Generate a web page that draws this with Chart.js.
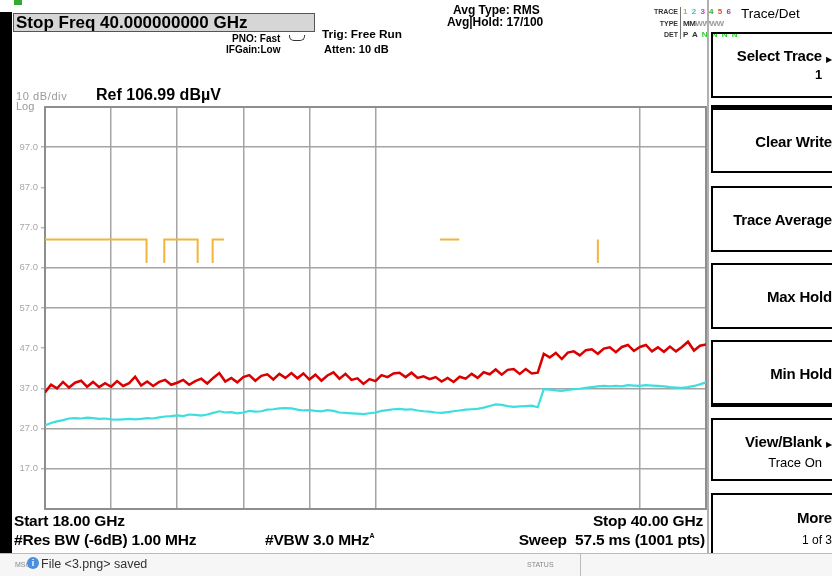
<!DOCTYPE html>
<html>
<head>
<meta charset="utf-8">
<title>Trace/Det - Stop Freq 40 GHz</title>
<script src="https://cdn.jsdelivr.net/npm/chart.js@4.4.1/dist/chart.umd.min.js"></script>
<style>
  body { margin: 0; background: #fff; }
  #screen { position: relative; width: 832px; height: 576px; overflow: hidden; background: #fff;
            font-family: "Liberation Sans", Arial, sans-serif; color: #000; }
  #c { position: absolute; left: 0; top: 0; }
  .t { position: absolute; white-space: nowrap; line-height: 1; }
  .b { font-weight: bold; }
  .btn { position: absolute; left: 711px; width: 130px; border: 2px solid #000; box-sizing: border-box; }
  .lbl { position: absolute; right: 7px; white-space: nowrap; font-weight: bold; font-size: 15px; line-height: 1; letter-spacing: -0.2px; }
  .foot { font-size: 15.5px; letter-spacing: -0.2px; }
</style>
</head>
<body>
<div id="screen">
  <canvas id="c" width="832" height="576"></canvas>

  <!-- left strip and header -->
  <div style="position:absolute;left:0;top:12px;width:12px;height:541px;background:#000"></div>
  <div style="position:absolute;left:14px;top:0;width:8px;height:5px;background:#3a3"></div>
  <div class="t b" style="left:13px;top:13px;width:302px;height:19px;box-sizing:border-box;background:#d6d6d6;border:1px solid #555;font-size:17px;padding:0 0 0 2px">Stop Freq 40.000000000 GHz</div>
  <div class="t b" style="left:232px;top:34px;font-size:10px">PNO: Fast</div>
  <div style="position:absolute;left:289px;top:35px;width:14px;height:5px;border:1px solid #333;border-top:none;border-radius:0 0 5px 5px"></div>
  <div class="t b" style="left:226px;top:45px;font-size:10px">IFGain:Low</div>
  <div class="t b" style="left:322px;top:29px;font-size:11.8px">Trig: Free Run</div>
  <div class="t b" style="left:324px;top:44px;font-size:11px">Atten: 10 dB</div>
  <div class="t b" style="left:453px;top:4px;font-size:12px">Avg Type: RMS</div>
  <div class="t b" style="left:447px;top:16px;font-size:12px">Avg|Hold: 17/100</div>

  <div class="t b" style="right:154px;top:8px;font-size:7px;color:#333">TRACE</div>
  <div class="t b" style="right:154px;top:20px;font-size:7px;color:#333">TYPE</div>
  <div class="t b" style="right:154px;top:31px;font-size:7px;color:#333">DET</div>
  <div style="position:absolute;left:680px;top:7px;width:1px;height:32px;background:#777"></div>
  <div class="t b" style="left:683px;top:8px;font-size:8px;letter-spacing:1px">
    <span style="color:#e0a800">1</span> <span style="color:#22c8c8">2</span> <span style="color:#d030d0">3</span> <span style="color:#30b030">4</span> <span style="color:#e05030">5</span> <span style="color:#8040d0">6</span>
  </div>
  <div class="t b" style="left:683px;top:20px;font-size:8px;letter-spacing:-0.5px"><span style="color:#333">MM</span><span style="color:#999">WWWW</span></div>
  <div class="t b" style="left:683px;top:31px;font-size:8px;letter-spacing:1px"><span style="color:#333">P A</span> <span style="color:#3c3">N N N N</span></div>

  <div class="t" style="left:16px;top:91px;font-size:11px;letter-spacing:0.6px;color:#999">10 dB/div</div>
  <div class="t" style="left:16px;top:101px;font-size:11px;color:#999">Log</div>
  <div class="t b" style="left:96px;top:87px;font-size:16px">Ref 106.99 dBµV</div>

  <!-- right soft-key panel -->
  <div style="position:absolute;left:707px;top:0;width:2px;height:553px;background:#b0b0b0"></div>
  <div class="t" style="left:741px;top:7px;font-size:13.5px">Trace/Det</div>

  <div class="btn" style="top:32px;height:66px">
    <div class="lbl" style="top:14px;right:17px">Select Trace</div>
    <div class="t" style="right:7px;top:22px;font-size:8px">&#9654;</div>
    <div class="lbl" style="top:34px;right:17px;font-size:13px">1</div>
  </div>
  <div style="position:absolute;left:711px;top:105px;width:130px;height:4px;background:#000"></div>
  <div class="btn" style="top:108px;height:65px"><div class="lbl" style="top:24px">Clear Write</div></div>
  <div class="btn" style="top:186px;height:66px"><div class="lbl" style="top:24px">Trace Average</div></div>
  <div class="btn" style="top:263px;height:66px"><div class="lbl" style="top:24px">Max Hold</div></div>
  <div class="btn" style="top:340px;height:66px"><div class="lbl" style="top:24px">Min Hold</div></div>
  <div style="position:absolute;left:711px;top:403px;width:130px;height:4px;background:#000"></div>
  <div class="btn" style="top:418px;height:63px">
    <div class="lbl" style="top:14px;right:17px">View/Blank</div>
    <div class="t" style="right:7px;top:21px;font-size:8px">&#9654;</div>
    <div class="t" style="right:17px;top:36px;font-size:13px">Trace On</div>
  </div>
  <div class="btn" style="top:493px;height:70px">
    <div class="lbl" style="top:15px">More</div>
    <div class="t" style="right:7px;top:39px;font-size:12px">1 of 3</div>
  </div>

  <!-- footer -->
  <div class="t b foot" style="left:14px;top:513px">Start 18.00 GHz</div>
  <div class="t b foot" style="left:14px;top:532px">#Res BW (-6dB) 1.00 MHz</div>
  <div class="t b foot" style="left:265px;top:532px">#VBW 3.0 MHz<span style="font-size:7px;vertical-align:top">A</span></div>
  <div class="t b foot" style="right:129px;top:513px">Stop 40.00 GHz</div>
  <div class="t b foot" style="right:127px;top:532px">Sweep&nbsp; 57.5 ms (1001 pts)</div>

  <div style="position:absolute;left:0;top:553px;width:832px;height:23px;background:#f6f6f6;border-top:1px solid #bbb"></div>
  <div style="position:absolute;left:580px;top:553px;width:1px;height:23px;background:#bbb"></div>
  <div class="t" style="left:15px;top:561px;font-size:7px;color:#888">MSG</div>
  <div class="t b" style="left:27px;top:557px;width:12px;height:12px;border-radius:6px;background:#4a8fe0;color:#fff;font-size:9px;text-align:center;line-height:12px">i</div>
  <div class="t" style="left:41px;top:558px;font-size:12.5px;color:#333">File &lt;3.png&gt; saved</div>
  <div class="t" style="left:527px;top:561px;font-size:7px;color:#888">STATUS</div>
</div>

<script>
// Sweep points (GHz) - one every 0.2 GHz from Start to Stop
const freqGHz = [
  18.0, 18.2, 18.4, 18.6, 18.8, 19.0, 19.2, 19.4, 19.6, 19.8,
  20.0, 20.2, 20.4, 20.6, 20.8, 21.0, 21.2, 21.4, 21.6, 21.8,
  22.0, 22.2, 22.4, 22.6, 22.8, 23.0, 23.2, 23.4, 23.6, 23.8,
  24.0, 24.2, 24.4, 24.6, 24.8, 25.0, 25.2, 25.4, 25.6, 25.8,
  26.0, 26.2, 26.4, 26.6, 26.8, 27.0, 27.2, 27.4, 27.6, 27.8,
  28.0, 28.2, 28.4, 28.6, 28.8, 29.0, 29.2, 29.4, 29.6, 29.8,
  30.0, 30.2, 30.4, 30.6, 30.8, 31.0, 31.2, 31.4, 31.6, 31.8,
  32.0, 32.2, 32.4, 32.6, 32.8, 33.0, 33.2, 33.4, 33.6, 33.8,
  34.0, 34.2, 34.4, 34.6, 34.8, 35.0, 35.2, 35.4, 35.6, 35.8,
  36.0, 36.2, 36.4, 36.6, 36.8, 37.0, 37.2, 37.4, 37.6, 37.8,
  38.0, 38.2, 38.4, 38.6, 38.8, 39.0, 39.2, 39.4, 39.6, 39.8,
  40.0
];

// Trace 2 (red) - dBuV
const redTrace = [
  36.0, 37.9, 37.0, 38.6, 37.2, 38.4, 38.9, 37.4, 38.6, 37.3,
  38.3, 37.4, 38.8, 37.6, 38.3, 39.9, 37.7, 38.7, 37.6, 38.6,
  39.1, 37.9, 38.4, 39.1, 37.9, 38.8, 39.4, 38.2, 39.6, 40.8,
  38.7, 39.6, 38.5, 39.8, 40.3, 38.9, 40.1, 40.5, 39.2, 40.6,
  39.6, 40.8, 39.5, 40.7, 39.2, 40.4, 38.9, 40.2, 41.0, 39.4,
  40.6, 39.1, 39.5, 38.1, 39.3, 38.8, 40.3, 39.8, 40.7, 40.9,
  39.8, 40.9, 39.6, 40.0, 39.3, 39.8, 38.7, 39.6, 38.6, 39.9,
  39.4, 40.6, 39.6, 41.0, 40.5, 41.7, 40.4, 41.6, 41.8, 40.6,
  41.8, 40.7, 40.9, 45.6, 44.7, 45.8, 44.3, 45.9, 46.2, 45.2,
  46.5, 46.7, 45.6, 46.9, 47.2, 46.0, 47.3, 47.8, 46.3, 47.3,
  47.8, 46.2, 47.2, 46.1, 47.4, 46.2, 47.3, 48.6, 46.4, 47.6,
  47.9
];

// Trace 3 (cyan) - dBuV
const cyanTrace = [
  27.8, 28.4, 28.8, 29.1, 29.5, 29.6, 29.5, 29.7, 29.6, 29.4,
  29.5, 29.3, 29.2, 29.3, 29.4, 29.3, 29.4, 29.6, 29.5, 29.8,
  30.0, 30.1, 30.3, 30.1, 30.5, 30.4, 30.2, 30.5, 30.9, 31.3,
  31.0, 31.1, 30.8, 31.0, 31.4, 31.2, 31.3, 31.7, 31.8, 32.0,
  32.1, 32.0, 31.7, 31.5, 31.6, 31.4, 31.3, 31.6, 31.4, 31.0,
  30.9, 30.8, 30.7, 30.6, 30.8, 31.0, 31.4, 31.6, 31.8, 31.9,
  31.7, 31.8, 31.5, 31.3, 31.2, 31.0, 30.9, 31.1, 31.3, 31.5,
  31.7, 31.8, 31.9, 32.2, 32.6, 33.0, 32.9, 32.6, 32.4, 32.5,
  32.6, 32.7, 32.3, 36.8, 36.7, 36.5, 36.4, 36.6, 36.8, 36.9,
  37.1, 37.3, 37.5, 37.6, 37.5, 37.6, 37.5, 37.8, 37.7, 37.6,
  37.8, 37.7, 37.6, 37.5, 37.3, 37.2, 37.1, 37.3, 37.6, 38.0,
  38.5
];

// Trace 1 (orange) - only the visible pieces, null = gap
const orangeFreq  = [18.0, 21.38, 21.38, 21.38, 21.97, 21.97, 23.08, 23.08, 23.08, 23.58, 23.58, 23.96, 23.96, 31.15, 31.79, 31.79, 36.40, 36.40];
const orangeLevel = [74.0, 74.0,  68.2,  null,  68.2,  74.0,  74.0,  68.2,  null,  68.2,  74.0,  74.0,  null,  74.0,  74.0,  null,  74.0,  68.2];

// Axes: ref level 106.99 dBuV, 10 dB/div; 10 horizontal divisions
const yTickValues = [16.99, 26.99, 36.99, 46.99, 56.99, 66.99, 76.99, 86.99, 96.99];
const yTickLabels = ['17.0', '27.0', '37.0', '47.0', '57.0', '67.0', '77.0', '87.0', '97.0'];
const xGridGHz = [20.2, 22.4, 24.6, 26.8, 29.0, 31.2, 33.4, 35.6, 37.8];

// grid lines that dropped out in the screenshot
const hiddenYGrid = [86.99, 76.99, 46.99];
const hiddenXGrid = [31.2, 33.4, 35.6];

const gridColor = '#a4a4a4';

function pairUp(xs, ys) {
    return xs.map((x, i) => ({ x: x, y: ys[i] }));
}

// gray frame round the plot area
const framePlugin = {
    id: 'frame',
    beforeDatasetsDraw(chart) {
        const { ctx, chartArea: a } = chart;
        ctx.save();
        ctx.strokeStyle = '#8e8e8e';
        ctx.lineWidth = 2;
        ctx.strokeRect(a.left, a.top, a.right - a.left, a.bottom - a.top);
        ctx.restore();
    }
};

new Chart(document.getElementById('c'), {
    type: 'line',
    data: {
        datasets: [
            {
                label: 'Trace 1',
                data: pairUp(orangeFreq, orangeLevel),
                borderColor: 'rgb(242, 180, 60)',
                borderWidth: 2,
                spanGaps: false
            },
            {
                label: 'Trace 3',
                data: pairUp(freqGHz, cyanTrace),
                borderColor: 'rgb(60, 222, 222)',
                borderWidth: 2.2
            },
            {
                label: 'Trace 2',
                data: pairUp(freqGHz, redTrace),
                borderColor: 'rgb(218, 0, 0)',
                borderWidth: 2.5
            }
        ]
    },
    options: {
        responsive: false,
        animation: false,
        events: [],
        elements: { point: { radius: 0 }, line: { tension: 0 } },
        layout: { padding: { left: 12, top: 107, right: 126, bottom: 67 } },
        plugins: { legend: { display: false }, tooltip: { enabled: false } },
        scales: {
            x: {
                type: 'linear',
                min: 18,
                max: 40,
                afterBuildTicks: s => { s.ticks = xGridGHz.map(v => ({ value: v })); },
                afterFit: s => { s.height = 0; },
                ticks: { display: false },
                border: { display: false },
                grid: {
                    drawTicks: false,
                    lineWidth: 1.5,
                    color: c => (c.tick && hiddenXGrid.includes(c.tick.value)) ? 'rgba(0,0,0,0)' : gridColor
                }
            },
            y: {
                min: 6.99,
                max: 106.99,
                afterBuildTicks: s => { s.ticks = yTickValues.map(v => ({ value: v })); },
                afterFit: s => { s.width = 33; },
                border: { display: false },
                ticks: {
                    callback: v => yTickLabels[yTickValues.indexOf(v)],
                    color: '#a8a8a8',
                    font: { family: '"Liberation Sans", Arial, sans-serif', size: 9.5 },
                    padding: 3
                },
                grid: {
                    lineWidth: 1.5,
                    tickLength: 4,
                    tickColor: '#b8b8b8',
                    color: c => (c.tick && hiddenYGrid.includes(c.tick.value)) ? 'rgba(0,0,0,0)' : gridColor
                }
            }
        }
    },
    plugins: [framePlugin]
});
</script>
</body>
</html>
